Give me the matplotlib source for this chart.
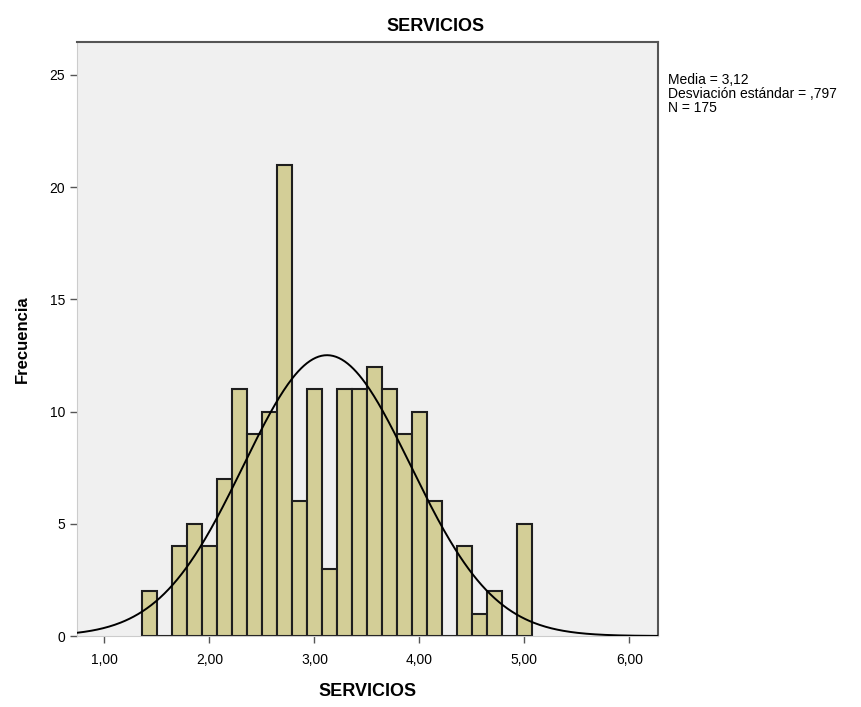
import numpy as np
import matplotlib
matplotlib.use("Agg")
import matplotlib.pyplot as plt

plt.rcParams['font.family'] = ['Liberation Sans', 'DejaVu Sans']

# Histogram bins (centers, step 1/7) and counts
bin_centers = [1.429, 1.571, 1.714, 1.857, 2.000, 2.143, 2.286, 2.429, 2.571,
               2.714, 2.857, 3.000, 3.143, 3.286, 3.429, 3.571, 3.714, 3.857,
               4.000, 4.143, 4.286, 4.429, 4.571, 4.714, 4.857, 5.000]
counts = [2, 0, 4, 5, 4, 7, 11, 9, 10, 21, 6, 11, 3, 11, 11, 12, 11, 9,
          10, 6, 0, 4, 1, 2, 0, 5]
bin_width = 1 / 7

# Summary statistics shown next to the plot
mean = 3.12
std = 0.797
n = 175

x_ticks = [1, 2, 3, 4, 5, 6]
x_tick_labels = ['1,00', '2,00', '3,00', '4,00', '5,00', '6,00']
y_ticks = [0, 5, 10, 15, 20, 25]

fig = plt.figure(figsize=(8.62, 7.07), dpi=100)
ax = fig.add_axes([0.0893, 0.1004, 0.6737, 0.8402])
ax.set_facecolor('#F0F0F0')

ax.bar(bin_centers, counts, width=bin_width, color='#D3CE97',
       edgecolor='#1e1e1e', linewidth=1.5, zorder=2)

# Normal curve scaled to the histogram
xs = np.linspace(0.738, 6.27, 400)
ys = n * bin_width * np.exp(-0.5 * ((xs - mean) / std) ** 2) / (std * np.sqrt(2 * np.pi))
ax.plot(xs, ys, color='black', linewidth=1.4, zorder=3)

ax.set_xlim(0.738, 6.27)
ax.set_ylim(0, 26.47)
ax.set_xticks(x_ticks)
ax.set_xticklabels(x_tick_labels, fontsize=10)
ax.set_yticks(y_ticks)
ax.set_yticklabels([str(v) for v in y_ticks], fontsize=10)
ax.tick_params(direction='out', length=5, color='#555555', width=1)
ax.tick_params(axis='x', pad=7)

for side in ['left', 'bottom']:
    ax.spines[side].set_color('#cccccc')
for side in ['top', 'right']:
    ax.spines[side].set_color('#555555')
    ax.spines[side].set_linewidth(1.5)

ax.set_xlabel('SERVICIOS', fontsize=13, fontweight='bold', labelpad=12)
ax.set_ylabel('Frecuencia', fontsize=12, fontweight='bold', labelpad=14)
fig.text(0.505, 0.963, 'SERVICIOS', ha='center', va='center',
         fontsize=13, fontweight='bold')

stats_text = 'Media = 3,12\nDesviación estándar = ,797\nN = 175'
fig.text(0.775, 0.897, stats_text, ha='left', va='top', fontsize=10,
         linespacing=1.0)

plt.savefig('out.png', dpi=100)
